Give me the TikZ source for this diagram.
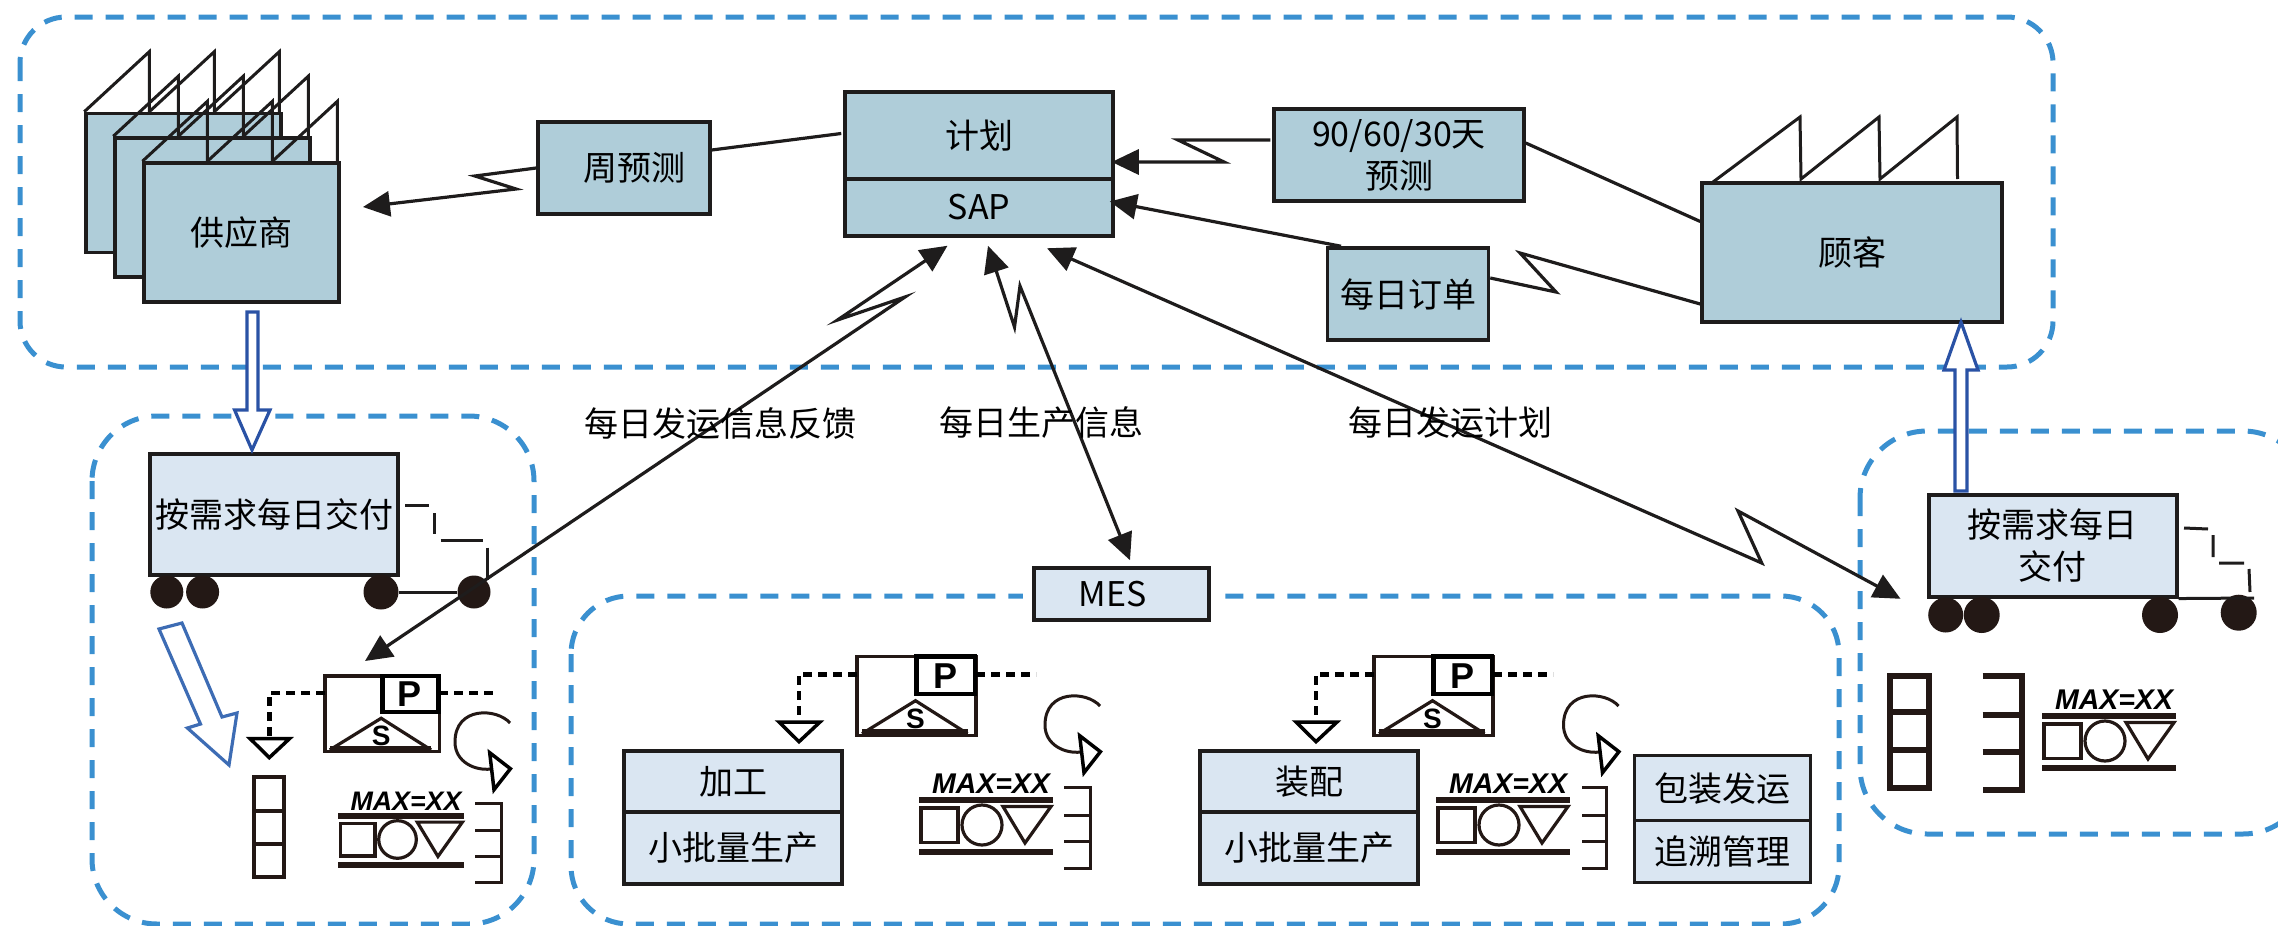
\documentclass[tikz,border=0pt]{standalone}
\usepackage{fontspec}
\setmainfont{Noto Sans CJK SC}
\newfontfamily\arialfont{Liberation Sans}
\usetikzlibrary{arrows.meta}
\definecolor{zoneblue}{HTML}{3A90D0}
\definecolor{boxdark}{HTML}{AFCDD9}
\definecolor{boxlight}{HTML}{DAE6F2}
\definecolor{inkblack}{HTML}{1E1C1C}
\definecolor{wheelblack}{HTML}{231815}
\definecolor{pushblue}{HTML}{2A52A5}
\definecolor{pushlight}{HTML}{3D6CB4}
\newcommand{\cntext}{\fontsize{34pt}{42pt}\selectfont}
\tikzset{
  zone/.style={draw=zoneblue,line width=5pt,dash pattern=on 18pt off 13pt},
  darkbox/.style={draw=inkblack,line width=3.5pt,fill=boxdark,inner sep=0pt,align=center,font=\cntext},
  lightbox/.style={draw=inkblack,line width=3.5pt,fill=boxlight,inner sep=0pt,align=center,font=\cntext},
  lab/.style={inner sep=0pt,font=\cntext},
  link/.style={draw=inkblack,line width=3.2pt,line join=miter},
  tipend/.style={-{Triangle[length=27pt,width=25pt]}},
  tipboth/.style={{Triangle[length=27pt,width=25pt]}-{Triangle[length=27pt,width=25pt]}},
  pushline/.style={draw=pushblue,line width=3.2pt,fill=white},
  wheel/.style={circle,fill=wheelblack,inner sep=0pt},
  thinline/.style={draw=inkblack,line width=3pt},
  ctrldash/.style={draw=black,line width=4.5pt,dash pattern=on 9pt off 6pt},
  roof/.pic={
    \draw[thinline] (0,0) -- (65,-60) -- (65,0) -- (130,-60) -- (130,0) -- (195,-60) -- (195,0);
  },
  control/.pic={
    \draw[draw=wheelblack,line width=3.2pt] (0,0) rectangle (119,78.5);
    \draw[draw=black,line width=4.5pt] (59.7,0) rectangle (118,37.3);
    \draw[draw=wheelblack,line width=3.2pt] (5,77) -- (58.5,44) -- (110.5,77);
    \draw[draw=wheelblack,line width=5.5pt] (5,75.5) -- (110.5,75.5);
    \node[inner sep=0pt,font=\arialfont\bfseries\fontsize{36pt}{36pt}\selectfont] (letterp) at (88.5,19) {P};
    \node[inner sep=0pt,font=\arialfont\bfseries\fontsize{28pt}{28pt}\selectfont] (letters) at (58.5,62) {S};
    \draw[ctrldash] (0,17.6) -- (-58,17.6) -- (-58,65.3);
    \draw[ctrldash] (119,17.6) -- (179,17.6);
    \draw[draw=black,line width=3.5pt] (-78,65.3) -- (-37,65.3) -- (-58,85) -- cycle;
  },
  loopback/.pic={
    \draw[draw=wheelblack,line width=3pt] (25,-19) .. controls (12,-34) and (-30,-36) .. (-30,0) .. controls (-30,20) and (-10,29) .. (6,27);
    \draw[draw=black,line width=3.5pt,fill=white] (4.7,10.7) -- (25.4,26.7) -- (9,47.7) -- cycle;
  },
  kanban/.pic={
    \node[inner sep=0pt,transform shape,font=\arialfont\bfseries\itshape\fontsize{28.5pt}{30pt}\selectfont] (maxlabel) at (72,-16) {MAX=XX};
    \draw[draw=wheelblack,line width=6.5pt] (0,0) -- (134,0);
    \draw[draw=wheelblack,line width=6.5pt] (0,52) -- (134,52);
    \draw[draw=wheelblack,line width=3.2pt] (2,8) rectangle (39,42.5);
    \draw[draw=wheelblack,line width=3.2pt] (63,25) circle[radius=20];
    \draw[draw=wheelblack,line width=3.2pt] (84,6.5) -- (132,6.5) -- (106,43) -- cycle;
  },
  shelf/.pic={
    \draw[draw=wheelblack] (0,0) -- (26,0) -- (26,81) -- (0,81);
    \draw[draw=wheelblack] (0,27.7) -- (26,27.7);
    \draw[draw=wheelblack] (0,54.4) -- (26,54.4);
  }
}
\begin{document}
\begin{tikzpicture}[x=1pt,y=-1pt]
\path[use as bounding box,clip] (0,0) rectangle (2278,926);

% dashed areas
\draw[zone,rounded corners=46pt] (20,17) rectangle (2053,367);
\draw[zone,rounded corners=65pt] (92,416) rectangle (534,924);
\draw[zone,rounded corners=58pt] (571,596) rectangle (1839,924);
\draw[zone,rounded corners=67pt] (1860,431) rectangle (2310,834);
\fill[white] (1023,585) rectangle (1220,607);

% top row
\node[darkbox,minimum width=195pt,minimum height=139pt] (supplierA) at (183.5,183) {};
\pic (roofA) at (supplierA.north west) {roof};
\node[darkbox,minimum width=195pt,minimum height=139pt] (supplierB) at (212.5,207.5) {};
\pic (roofB) at (supplierB.north west) {roof};
\node[darkbox,minimum width=195pt,minimum height=139pt] (supplierC) at (241.7,232.5) {供应商};
\pic (roofC) at (supplierC.north west) {roof};
\node[darkbox,minimum width=172pt,minimum height=92pt] (weekly) at (624,168) {\hspace{20pt}周预测};
\node[darkbox,minimum width=268pt,minimum height=87pt] (plan) at (979,135.5) {计划};
\node[darkbox,minimum width=268pt,minimum height=57pt] (sap) at (979,207.5) {SAP};
\node[darkbox,minimum width=250pt,minimum height=92pt] (forecast) at (1399,155) {90/60/30天\\预测};
\node[darkbox,minimum width=161pt,minimum height=92pt] (order) at (1408,294) {每日订单};
\node[darkbox,minimum width=300pt,minimum height=139pt] (customer) at (1852,252.5) {顾客};
\draw[thinline] (1713,182) -- (1800,117) -- (1801,179) -- (1879,117) -- (1880,179) -- (1957,117) -- (1957.5,179);

% trucks
\node[lightbox,minimum width=248pt,minimum height=121pt] (truckA) at (274.2,514.5) {按需求每日交付};
\node[wheel,minimum size=33pt] (wheelA) at (166.8,592) {};
\node[wheel,minimum size=33pt] (wheelB) at (202.6,592) {};
\node[wheel,minimum size=35pt] (wheelC) at (381,592) {};
\node[wheel,minimum size=33pt] (wheelD) at (474,592) {};
\draw[thinline] (wheelC) -- (wheelD);
\draw[thinline] (405,505) -- (428.5,505) (434.7,513) -- (434.7,534) (440.6,540.6) -- (483,540.6) (487.7,547.6) -- (487.7,579.5);
\node[lightbox,minimum width=248pt,minimum height=102pt] (truckB) at (2052.8,545.8) {按需求每日\\交付};
\node[wheel,minimum size=35pt] (wheelE) at (1945.7,615) {};
\node[wheel,minimum size=36pt] (wheelF) at (1981.7,615) {};
\node[wheel,minimum size=36pt] (wheelG) at (2160,615) {};
\node[wheel,minimum size=36pt] (wheelH) at (2238.7,612.7) {};
\coordinate (cabEnd) at (2254,598);
\draw[thinline] (truckB.south east) -- (cabEnd);
\draw[thinline] (2184,528) -- (2208,529) (2213,535) -- (2213,557) (2219,563) -- (2244,563) (2249,569) -- (2250,592);

% middle boxes
\node[lightbox,minimum width=175pt,minimum height=52pt] (mes) at (1121.5,594) {MES\hspace{18pt}};
\node[lightbox,minimum width=218pt,minimum height=61pt] (cutting) at (733.2,781.5) {加工};
\node[lightbox,minimum width=218pt,minimum height=72pt] (cuttingLot) at (733.2,848) {小批量生产};
\node[lightbox,minimum width=218pt,minimum height=61pt] (assembly) at (1309,781.5) {装配};
\node[lightbox,minimum width=218pt,minimum height=72pt] (assemblyLot) at (1309,848) {小批量生产};
\node[lightbox,minimum width=176pt,minimum height=65pt] (packing) at (1722.5,788.2) {包装发运};
\node[lightbox,minimum width=176pt,minimum height=61.6pt] (tracing) at (1722.5,851.5) {追溯管理};

% production control and stock
\pic[scale=.96] (ctrlA) at (325,676) {control};
\pic (ctrlB) at (857,656.7) {control};
\pic (ctrlC) at (1374,656.7) {control};
\pic (loopA) at (485,742) {loopback};
\pic (loopB) at (1075,725) {loopback};
\pic (loopC) at (1593.5,725) {loopback};
\pic[scale=.94] (kanbanA) at (338.3,816) {kanban};
\pic (kanbanB) at (919,800) {kanban};
\pic (kanbanC) at (1436,800) {kanban};
\pic (kanbanD) at (2042,716) {kanban};
\pic[line width=3pt,yscale=.97] (shelfA) at (475,803.6) {shelf};
\pic[line width=3pt] (shelfB) at (1064.4,787.3) {shelf};
\pic[line width=3pt,xscale=.95] (shelfC) at (1582,787.3) {shelf};
\pic[line width=6pt,xscale=1.52,yscale=1.41] (shelfD) at (1982.7,675.7) {shelf};
\draw[draw=wheelblack,line width=4pt] (254,776.5) rectangle (284,876.5) (254,811) -- (284,811) (254,844) -- (284,844);
\draw[draw=wheelblack,line width=6pt] (1890,676) rectangle (1929,788) (1890,712) -- (1929,712) (1890,750) -- (1929,750);

% hollow arrows
\draw[pushline] (252,450) -- (234.6,410) -- (247,410) -- (247,312) -- (258,312) -- (258,410) -- (270,410) -- cycle;
\draw[pushline] (1961,322) -- (1978,370) -- (1967,370) -- (1967,491) -- (1955,491) -- (1955,370) -- (1944,370) -- cycle;
\draw[pushline,draw=pushlight] (229,765) -- (187.4,728) -- (200.5,724) -- (159,629) -- (182,623) -- (222,717) -- (237,713) -- cycle;

% information flow
\coordinate (feedEnd) at (365,661);
\draw[link] ([shift={(-2,-2)}]plan.west) -- ([yshift=18]weekly.east);
\draw[link,tipend] (weekly.west) -- (475,176) -- (516,189) -- ([shift={(22,-25.5)}]supplierC.east);
\draw[link] ([yshift=12]forecast.east) -- ([yshift=31]customer.west);
\draw[link,tipend] ([shift={(-2,-15)}]forecast.west) -- (1178,140) -- (1224,162) -- ([shift={(-3,26.5)}]plan.east);
\draw[link] ([yshift=-51.5]customer.west) -- (1520,253) -- (1556,292) -- ([yshift=16]order.east);
\draw[link,tipend] ([xshift=-67]order.north) -- ([shift={(-5,-6)}]sap.east);
\draw[link,tipboth] ([shift={(-31.5,8)}]sap.south) -- (837.5,320) -- (905,297) -- (feedEnd);
\draw[link,tipboth] ([shift={(9,8)}]sap.south) -- (1014.5,327) -- (1020,286) -- ([shift={(8.5,-6)}]mes.north);
\draw[link,tipboth] ([shift={(68,10.5)}]sap.south) -- (1761.7,563) -- (1738,511) -- ([shift={(-26.5,53)}]truckB.west);

% flow labels
\node[lab] (feedLabel) at (720.6,423) {每日发运信息反馈};
\node[lab] (prodLabel) at (1041.7,423) {每日生产信息};
\node[lab] (shipLabel) at (1450,423) {每日发运计划};
\end{tikzpicture}
\end{document}
